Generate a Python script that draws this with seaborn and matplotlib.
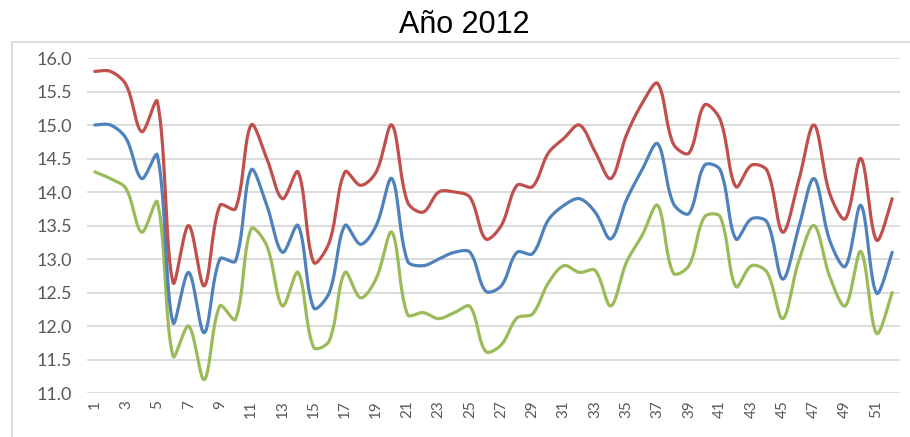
import numpy as np
import pandas as pd
import matplotlib
matplotlib.use("Agg")
import matplotlib.pyplot as plt
from matplotlib.patches import Rectangle
import seaborn as sns

# weekly values
weeks = list(range(1, 53))
red = [15.8, 15.8, 15.6, 14.9, 15.35, 12.65, 13.5, 12.6, 13.8, 13.75,
       15.0, 14.5, 13.9, 14.3, 12.95, 13.25, 14.3, 14.1, 14.3, 15.0,
       13.85, 13.7, 14.0, 14.0, 13.92, 13.3, 13.5, 14.1, 14.08, 14.58,
       14.8, 15.0, 14.6, 14.2, 14.85, 15.32, 15.62, 14.72, 14.58, 15.3,
       15.08, 14.08, 14.4, 14.32, 13.4, 14.15, 15.0, 13.98, 13.6, 14.5,
       13.28, 13.9]
blue = [15.0, 15.0, 14.8, 14.2, 14.55, 12.05, 12.8, 11.9, 13.0, 12.97,
        14.33, 13.8, 13.1, 13.5, 12.27, 12.5, 13.5, 13.22, 13.5, 14.2,
        12.97, 12.9, 13.0, 13.1, 13.1, 12.52, 12.6, 13.1, 13.08, 13.58,
        13.8, 13.9, 13.7, 13.3, 13.88, 14.33, 14.72, 13.83, 13.68, 14.4,
        14.33, 13.3, 13.6, 13.55, 12.7, 13.45, 14.2, 13.28, 12.89, 13.8,
        12.49, 13.1]
green = [14.3, 14.2, 14.05, 13.4, 13.85, 11.55, 12.0, 11.2, 12.3, 12.1,
         13.45, 13.2, 12.3, 12.8, 11.68, 11.78, 12.8, 12.42, 12.71, 13.4,
         12.17, 12.2, 12.11, 12.2, 12.29, 11.62, 11.72, 12.12, 12.18, 12.64,
         12.9, 12.8, 12.83, 12.3, 12.95, 13.35, 13.8, 12.79, 12.9, 13.63,
         13.63, 12.59, 12.9, 12.8, 12.11, 12.95, 13.5, 12.74, 12.3, 13.11,
         11.89, 12.5]
ytick_vals = [11.0, 11.5, 12.0, 12.5, 13.0, 13.5, 14.0, 14.5, 15.0, 15.5, 16.0]

colors = {"red": "#C0504D", "blue": "#4F81BD", "green": "#9BBB59"}


# Excel-like smoothed line: bezier through the points, tangents split by
# the on-screen length of the neighbouring segments
def smooth(x, y, n=24, yscale=4.29):
    x = np.asarray(x, float)
    y = np.asarray(y, float)
    m = len(x)
    d = np.hypot(np.diff(x), np.diff(y) * yscale)
    c_in = np.zeros((m, 2))
    c_out = np.zeros((m, 2))
    for i in range(m):
        a = max(i - 1, 0)
        b = min(i + 1, m - 1)
        tx, ty = x[b] - x[a], y[b] - y[a]
        dp = d[i - 1] if i > 0 else d[0]
        dn = d[i] if i < m - 1 else d[-1]
        fp = dp / (dp + dn) * 2 / 3
        fn = dn / (dp + dn) * 2 / 3
        if i == 0 or i == m - 1:
            fp = fn = 1 / 3
        c_in[i] = (x[i] - tx * fp / 2, y[i] - ty * fp / 2)
        c_out[i] = (x[i] + tx * fn / 2, y[i] + ty * fn / 2)
    t = np.linspace(0, 1, n, endpoint=False)[:, None]
    pts = []
    for i in range(m - 1):
        p0 = np.array([x[i], y[i]])
        p3 = np.array([x[i + 1], y[i + 1]])
        p1, p2 = c_out[i], c_in[i + 1]
        pts.append((1 - t) ** 3 * p0 + 3 * (1 - t) ** 2 * t * p1
                   + 3 * (1 - t) * t ** 2 * p2 + t ** 3 * p3)
    pts.append(np.array([[x[-1], y[-1]]]))
    pts = np.vstack(pts)
    return pts[:, 0], pts[:, 1]


frames = []
for name, vals in (("green", green), ("blue", blue), ("red", red)):
    sx, sy = smooth(weeks, vals)
    frames.append(pd.DataFrame({"week": sx, "value": sy, "serie": name}))
df = pd.concat(frames, ignore_index=True)

sns.set_style("white")
plt.rcParams["font.family"] = ["Lato", "DejaVu Sans"]

fig = plt.figure(figsize=(9.1, 4.37), dpi=100)
ax = fig.add_axes([87 / 910, 1 - 393 / 437, 813 / 910, 335 / 437])

sns.lineplot(data=df, x="week", y="value", hue="serie", palette=colors,
             linewidth=2.3, legend=False, sort=False, estimator=None, ax=ax)

ax.set_xlim(0.5, 52.5)
ax.set_ylim(11, 16)
ax.set_yticks(ytick_vals)
ax.set_yticklabels([f"{v:.1f}" for v in ytick_vals])
ax.set_xticks(weeks[::2])
ax.set_xticklabels([str(w) for w in weeks[::2]], rotation=90)
ax.tick_params(axis="y", labelsize=13, colors="#595959", length=0, pad=11)
ax.tick_params(axis="x", labelsize=11, colors="#595959", length=0, pad=5)
ax.set_xlabel("")
ax.set_ylabel("")
ax.grid(axis="y", color="#D9D9D9", linewidth=1.3)
ax.set_axisbelow(True)
for s in ax.spines.values():
    s.set_visible(False)

# chart border
fig.patches.append(Rectangle((12 / 910, -0.05), 1.0, 1 - 42 / 437 + 0.05,
                             transform=fig.transFigure, fill=False,
                             edgecolor="#D9D9D9", linewidth=1.3))

fig.text(464 / 910, 1 - 25 / 437, "Año 2012", ha="center", va="center",
         fontsize=22, family=["Liberation Sans", "DejaVu Sans"], color="black")

fig.savefig("out.png", dpi=100)
